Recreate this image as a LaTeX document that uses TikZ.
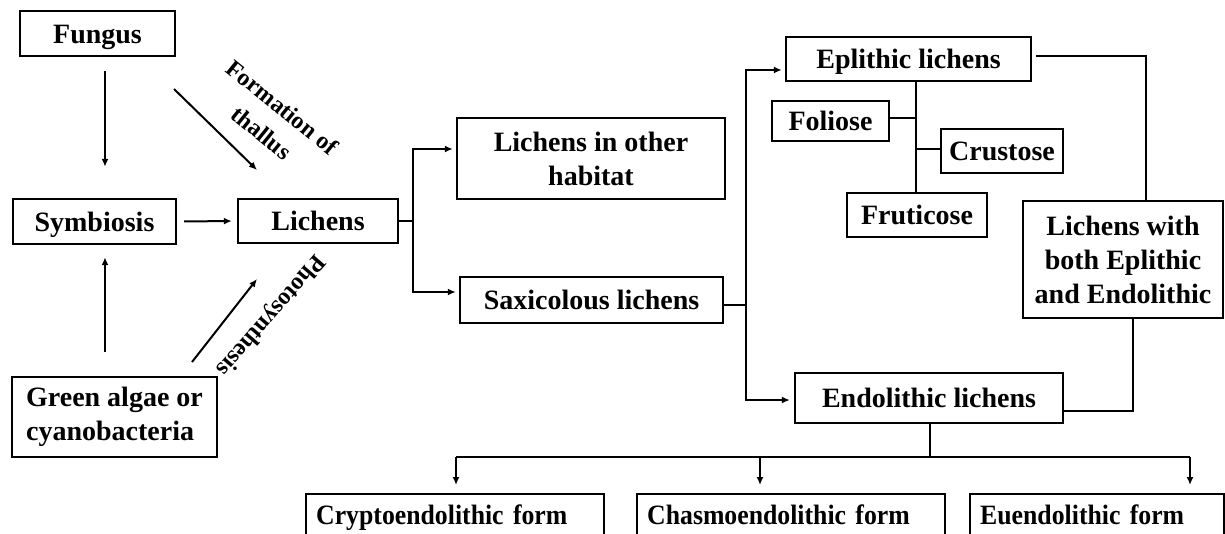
\documentclass[tikz,border=0pt]{standalone}
\usepackage{fontspec}
\setmainfont{Liberation Serif}
\newfontfamily\condfont{Liberation Serif}[FakeStretch=0.92,WordSpace=0.6]
\usetikzlibrary{arrows.meta,calc}
\begin{document}
\begin{tikzpicture}[x=1pt,y=-1pt,
  box/.style={draw,line width=2.4pt,inner sep=0pt,font=\bfseries\fontsize{28}{34}\selectfont,align=center},
  oneline/.style={text height=19pt,text depth=0pt},
  formbox/.style={draw,line width=2.4pt,inner ysep=0pt,inner xsep=10pt,anchor=north west,minimum height=42pt,align=left,text height=19pt,text depth=0pt,font=\condfont\bfseries\fontsize{28}{34}\selectfont},
  ln/.style={line width=2pt},
  arr/.style={line width=2pt,-{Latex[length=8pt,width=7pt]}},
  lbl/.style={font=\bfseries\fontsize{24}{33}\selectfont,align=center,inner sep=0pt}]
\useasboundingbox (0,0) rectangle (1225,533);
\clip (0,0) rectangle (1225,533);
% left part
\node[box,oneline,minimum width=155pt,minimum height=45pt] (fungus) at (97.5,33.5) {Fungus};
\node[box,oneline,minimum width=163pt,minimum height=45pt] (symbiosis) at (94.5,221.5) {Symbiosis};
\node[box,oneline,minimum width=160pt,minimum height=44pt] (lichens) at (318,221) {Lichens};
\node[box,minimum width=205pt,minimum height=80pt,align=left] (algae) at (114.5,417) {Green algae or\\cyanobacteria};
% middle
\node[box,minimum width=268pt,minimum height=81pt] (habitat) at (591,158.5) {Lichens in other\\habitat};
\node[box,oneline,minimum width=263pt,minimum height=46pt] (saxi) at (591.5,300) {Saxicolous lichens};
% right
\node[box,oneline,minimum width=245pt,minimum height=44pt] (eplithic) at (908.5,59) {Eplithic lichens};
\node[box,oneline,minimum width=117pt,minimum height=40pt] (foliose) at (830.5,121) {Foliose};
\node[box,oneline,minimum width=122pt,minimum height=44pt] (crustose) at (1002,151) {Crustose};
\node[box,oneline,minimum width=140pt,minimum height=44pt] (fruticose) at (917,215) {Fruticose};
\node[box,minimum width=200pt,minimum height=117pt] (both) at (1123,259.5) {Lichens with\\both Eplithic\\and Endolithic};
\node[box,oneline,minimum width=268pt,minimum height=50pt] (endo) at (929,398) {Endolithic lichens};
% bottom
\node[formbox,text width=278pt] (crypto) at (305,493) {Cryptoendolithic form};
\node[formbox,text width=288pt] (chasmo) at (636,493) {Chasmoendolithic form};
\node[formbox,text width=234pt] (eu) at (969,493) {Euendolithic form};
% diagonal arrows and labels
\coordinate (fa1) at (174,89);
\coordinate (fa2) at (257,170);
\draw[arr] (fa1) -- (fa2);
\coordinate (pa1) at (192,362);
\coordinate (pa2) at (257,279);
\draw[arr] (pa1) -- (pa2);
\node[lbl,rotate=-39] (formation) at (272,120) {Formation of\\thallus};
\node[lbl,rotate=229] (photo) at (270,315) {Photosynthesis};
% vertical arrows to symbiosis
\coordinate (fx) at (105,0);
\draw[arr,shorten <=14pt,shorten >=31pt] (fungus.south -| fx) -- (symbiosis.north -| fx);
\draw[arr,shorten <=24pt,shorten >=12pt] (algae.north -| fx) -- (symbiosis.south -| fx);
\draw[arr,shorten <=7pt,shorten >=5pt] (symbiosis.east) -- (lichens.west);
% lichens split
\coordinate (b1) at (413,221);
\draw[ln] (lichens.east) -- (b1);
\draw[arr,shorten >=3pt] (b1) |- ($(habitat.west)+(0,-9.5)$);
\draw[arr,shorten >=3pt] (b1) |- ($(saxi.west)+(0,-8)$);
% saxicolous split
\coordinate (b2) at (746,305);
\draw[ln] ($(saxi.east)+(0,5)$) -- (b2);
\draw[arr,shorten >=3pt] (b2) |- ($(eplithic.west)+(0,11)$);
\draw[arr,shorten >=4pt] (b2) |- ($(endo.west)+(0,2)$);
% eplithic tree
\coordinate (t1) at (916,0);
\draw[ln] (eplithic.south -| t1) -- (fruticose.north -| t1);
\draw[ln] ($(foliose.east)+(0,-3)$) -- ($(foliose.east -| t1)+(0,-3)$);
\draw[ln] ($(crustose.west)+(0,-2)$) -- ($(crustose.west -| t1)+(0,-2)$);
% eplithic to both, both to endolithic
\coordinate (b3) at (1146,0);
\draw[ln] ($(eplithic.east)+(4,-3)$) -| (both.north -| b3);
\coordinate (b4) at (1133,0);
\draw[ln] (both.south -| b4) |- ($(endo.east)+(0,13)$);
% endolithic to forms
\coordinate (b5) at (930,457);
\draw[ln] (endo.south -| b5) -- (b5);
\coordinate (c1) at (456,457);
\coordinate (c2) at (760,457);
\coordinate (c3) at (1190,457);
\draw[ln] (c1) -- (c3);
\draw[arr,shorten >=8pt] (c1) -- (crypto.north -| c1);
\draw[arr,shorten >=8pt] (c2) -- (chasmo.north -| c2);
\draw[arr,shorten >=8pt] (c3) -- (eu.north -| c3);
\end{tikzpicture}
\end{document}
